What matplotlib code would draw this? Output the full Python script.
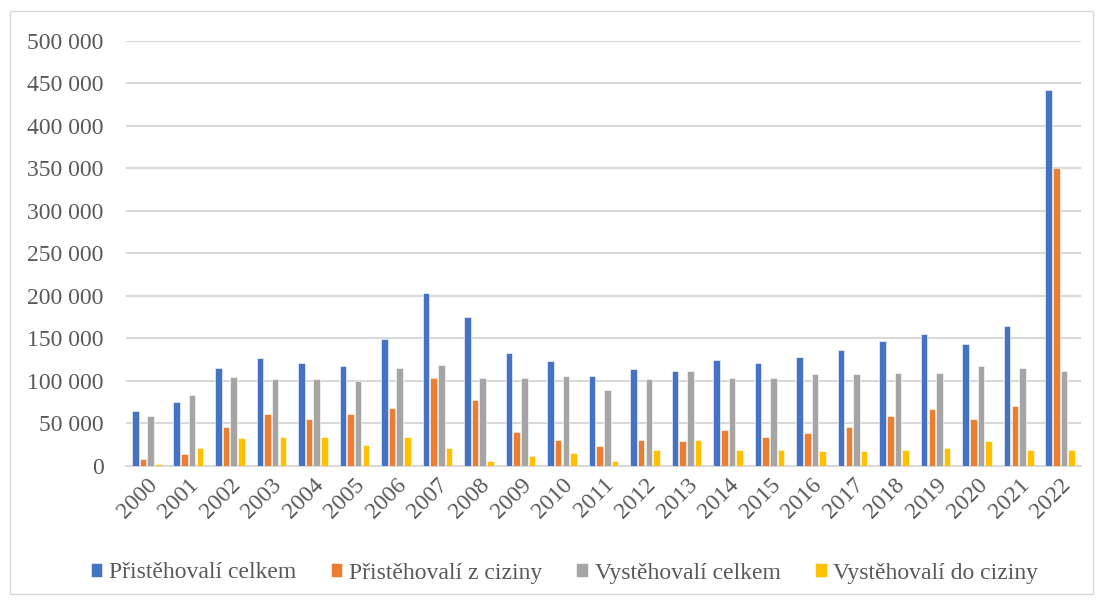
import matplotlib
matplotlib.use("Agg")
import matplotlib.pyplot as plt
import numpy as np
from matplotlib.patches import Rectangle

years = [str(y) for y in range(2000, 2023)]
series_names = ["Přistěhovalí celkem", "Přistěhovalí z ciziny",
                "Vystěhovalí celkem", "Vystěhovalí do ciziny"]
prist_celkem = [64000, 75300, 115000, 126400, 120900, 117000, 149200, 203700,
                175400, 132300, 122900, 105600, 113500, 111500, 124400, 120900,
                128300, 135900, 147200, 155000, 143600, 164100, 442700]
prist_cizina = [7900, 13800, 45600, 60500, 55000, 60500, 68300, 103600,
                77300, 39700, 30300, 22800, 30300, 28700, 41700, 34100,
                38100, 45600, 58500, 66400, 55000, 69900, 350500]
vyst_celkem = [58500, 83200, 104000, 102000, 102000, 100000, 115000, 118900,
               103600, 103600, 105600, 88800, 102000, 111500, 103600, 103600,
               107600, 107600, 109500, 109500, 117000, 115000, 111500]
vyst_cizina = [2400, 20800, 32300, 34100, 34100, 24700, 34100, 20800,
               5500, 11400, 15000, 5500, 18800, 30300, 18800, 18800,
               17000, 17000, 18800, 20800, 28700, 18800, 18800]
yticks = [0, 50000, 100000, 150000, 200000, 250000, 300000, 350000, 400000, 450000, 500000]
ytick_labels = ["0", "50 000", "100 000", "150 000", "200 000", "250 000",
                "300 000", "350 000", "400 000", "450 000", "500 000"]

colors = ["#4472C4", "#ED7D31", "#A5A5A5", "#FFC000"]
font = "Liberation Serif"
txt_color = "#595959"
fs = 17

fig = plt.figure(figsize=(10.97, 6.02), dpi=100)
ax = fig.add_axes([126/1097, 1 - 465.7/602, (1081-126)/1097, (465.7-41)/602])

x = np.arange(len(years))
step = 0.185
width = 0.158
data = [prist_celkem, prist_cizina, vyst_celkem, vyst_cizina]
for i, (vals, c, name) in enumerate(zip(data, colors, series_names)):
    ax.bar(x + (i - 1.5) * step, vals, width=width, color=c, label=name,
           edgecolor="white", linewidth=0.4, zorder=3)

ax.set_xlim(-0.5, len(years) - 0.5)
ax.set_ylim(0, 500000)
ax.set_yticks(yticks)
ax.set_yticklabels(ytick_labels, fontfamily=font, fontsize=fs, color=txt_color)
ax.set_xticks(x)
ax.set_xticklabels(years, rotation=45, ha="right", va="top", rotation_mode="anchor",
                   fontfamily=font, fontsize=fs, color=txt_color)
ax.tick_params(axis="y", length=0, pad=16)
ax.tick_params(axis="x", length=0, pad=6)
ax.grid(axis="y", color="#D9D9D9", linewidth=1.5, zorder=0)
for s in ["top", "right", "left"]:
    ax.spines[s].set_visible(False)
ax.spines["bottom"].set_color("#D9D9D9")
ax.spines["bottom"].set_linewidth(1.5)

leg = fig.legend(loc="center", bbox_to_anchor=(564.5/1097, 1 - 573/602), ncol=4,
                 frameon=False, prop={"family": font, "size": fs},
                 handlelength=0.5, handleheight=0.5, handletextpad=0.28,
                 columnspacing=1.45, borderpad=0.1)
for t in leg.get_texts():
    t.set_color(txt_color)

fig.patches.append(Rectangle((10/1097, 1 - 594/602), (1093-10)/1097, (594-11)/602,
                             transform=fig.transFigure, fill=False,
                             edgecolor="#D9D9D9", linewidth=1.0))

fig.savefig("out.png", dpi=100)
